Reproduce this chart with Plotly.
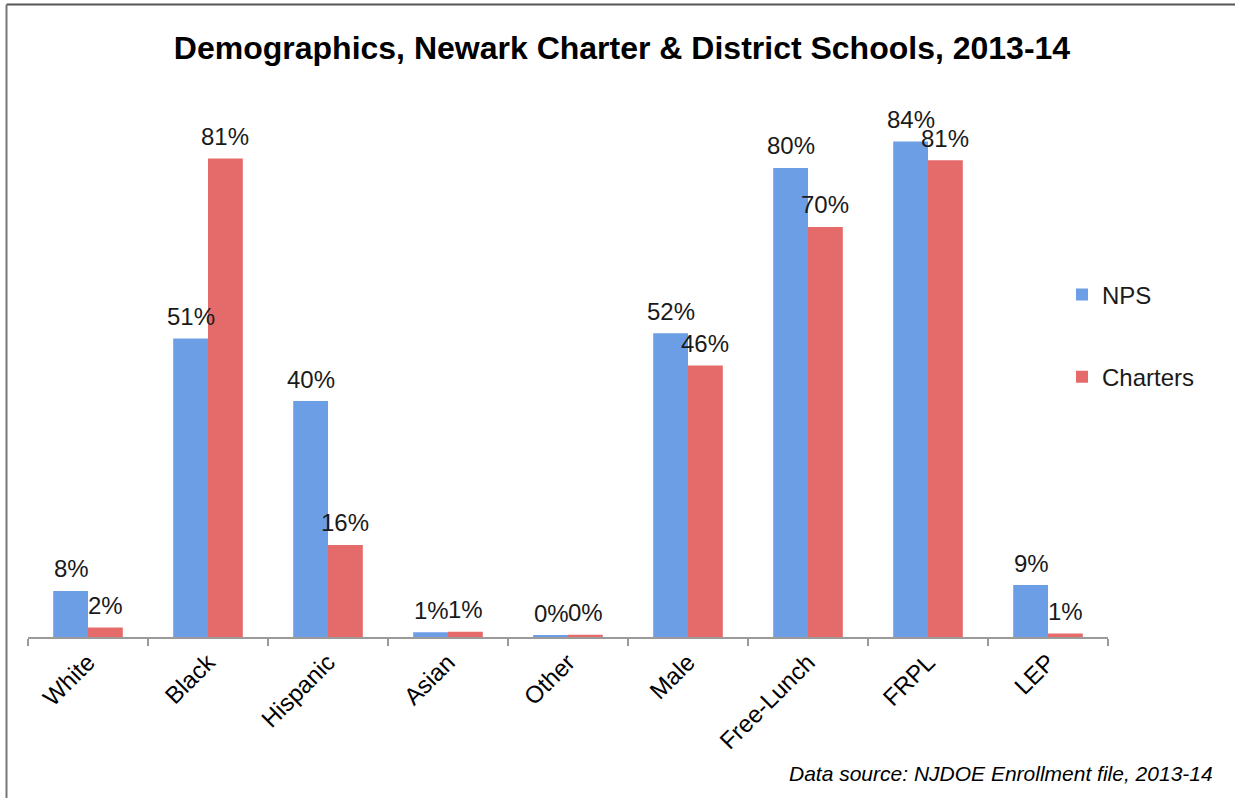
import plotly.graph_objects as go

categories = ["White", "Black", "Hispanic", "Asian", "Other", "Male", "Free-Lunch", "FRPL", "LEP"]
nps_values = [7.8, 50.6, 40.0, 0.8, 0.2, 51.5, 79.5, 84.0, 8.8]
charter_values = [1.6, 81.1, 15.6, 0.9, 0.4, 46.0, 69.5, 80.8, 0.6]
series_names = ["NPS", "Charters"]

title_text = "Demographics, Newark Charter & District Schools, 2013-14"
source_text = "Data source: NJDOE Enrollment file, 2013-14"

FONT = "Liberation Sans, Arial, Helvetica, sans-serif"
BLUE = "#6c9ee6"
RED = "#e56a6a"

fig = go.Figure()
fig.add_trace(go.Bar(x=categories, y=nps_values, name=series_names[0],
                     marker=dict(color=BLUE, line=dict(width=0)),
                     legendgroup="a", hoverinfo="x+y"))
fig.add_trace(go.Bar(x=categories, y=charter_values, name=series_names[1],
                     marker=dict(color=RED, line=dict(width=0)),
                     legendgroup="b", hoverinfo="x+y"))

annotations = []
for vals, shift in ((nps_values, -17), (charter_values, 17)):
    for c, v in zip(categories, vals):
        annotations.append(dict(x=c, y=v, xref="x", yref="y", text=f"{v:.0f}%",
                                showarrow=False, xshift=shift, yshift=22,
                                yanchor="middle", xanchor="center",
                                font=dict(family=FONT, size=24, color="#1a1a1a")))

annotations.append(dict(text=source_text, xref="paper", yref="paper",
                        x=(1215 - 28) / 1080, y=(637 - 773) / 531,
                        xanchor="right", yanchor="middle", showarrow=False,
                        font=dict(family=FONT, size=21, color="#000000", style="italic")))

shapes = [
    dict(type="line", xref="paper", yref="paper",
         x0=(6.5 - 28) / 1080, x1=(1235 - 28) / 1080,
         y0=(637 - 4.5) / 531, y1=(637 - 4.5) / 531,
         line=dict(color="#555555", width=2)),
    dict(type="line", xref="paper", yref="paper",
         x0=(6.5 - 28) / 1080, x1=(6.5 - 28) / 1080,
         y0=(637 - 4.5) / 531, y1=(637 - 798) / 531,
         line=dict(color="#777777", width=2)),
]

fig.update_layout(
    width=1235, height=798,
    margin=dict(l=28, r=127, t=106, b=161),
    paper_bgcolor="white", plot_bgcolor="white",
    barmode="group", bargap=0.42, bargroupgap=0,
    title=dict(text=title_text, x=622 / 1235, xref="container", xanchor="center",
               y=1 - 48 / 798, yref="container", yanchor="middle",
               font=dict(family=FONT, size=32, color="#000000", weight="bold")),
    showlegend=True,
    legend=dict(x=(1062 - 28) / 1080, xanchor="left", y=(637 - 336) / 531, yanchor="middle",
                font=dict(family=FONT, size=24, color="#1a1a1a"),
                tracegroupgap=48, bgcolor="rgba(0,0,0,0)"),
    xaxis=dict(type="category", showline=True, linecolor="#9a9a9a", linewidth=1.5,
               ticks="outside", tickson="boundaries", ticklen=7, tickcolor="#9a9a9a",
               tickwidth=1.5, tickangle=-45,
               tickfont=dict(family=FONT, size=24, color="#000000"),
               showgrid=False, zeroline=False),
    yaxis=dict(range=[0, 90], visible=False, showgrid=False, zeroline=False),
    annotations=annotations,
    shapes=shapes,
)

fig.write_html("out.html", config={"displayModeBar": False},
               post_script="document.body.style.margin='0';document.body.style.overflow='hidden';")
